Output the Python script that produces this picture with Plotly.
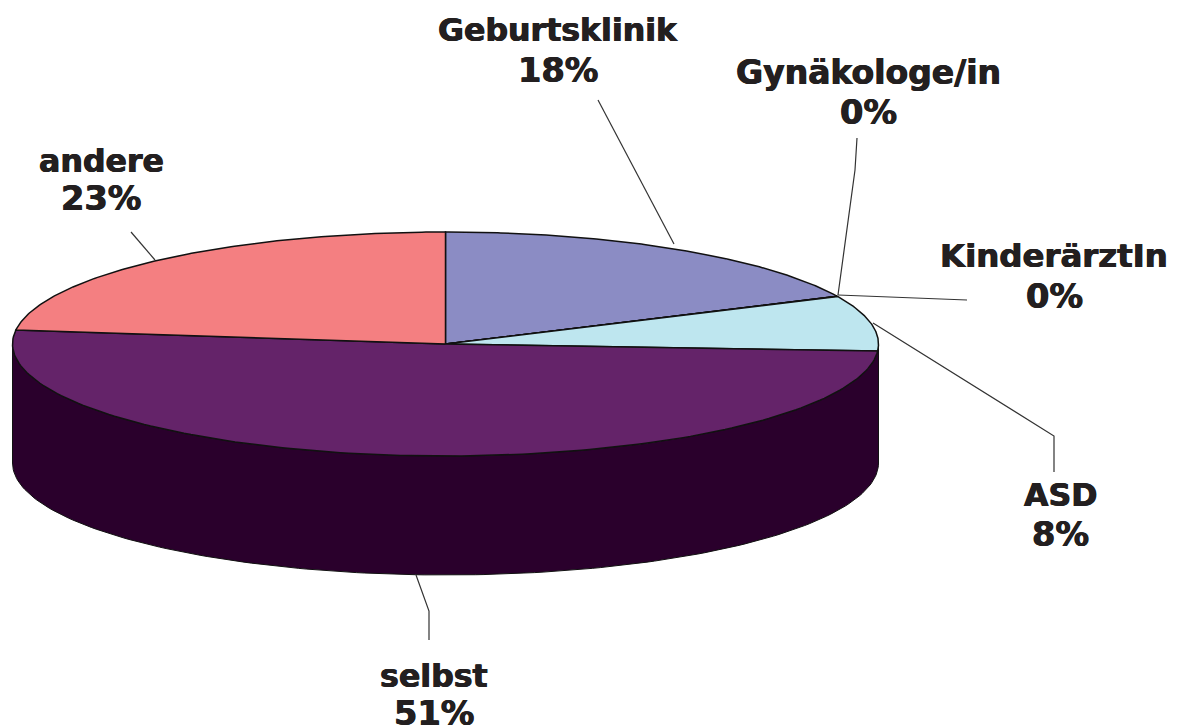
import numpy as np
import plotly.graph_objects as go

categories = ["Geburtsklinik", "Gynäkologe/in", "KinderärztIn", "ASD", "selbst", "andere"]
values = [18, 0, 0, 8, 51, 23]
colors = ["#8b8cc4", "#8b8cc4", "#bee6ef", "#bee6ef", "#642369", "#f47f81"]

WALL = "#2a002c"
EDGE = "#111111"
CX, CY, RX, RY, DEPTH = 445.5, 344.0, 433.0, 112.0, 119.0

# x, name-line y, percent-line y, name font size
label_pos = {
    "Geburtsklinik": (558, 30, 70, 31.6),
    "Gynäkologe/in": (868, 72, 112, 33.0),
    "KinderärztIn": (1054, 256, 296, 32.4),
    "ASD": (1060, 495, 534, 31.6),
    "selbst": (434, 676, 713, 31.6),
    "andere": (101, 161, 198, 31.6),
}
PCT_SIZE = 33.6
leaders = [
    ([598, 674], [100, 244]),
    ([857, 855, 838], [138, 170, 295]),
    ([967, 838], [300, 295]),
    ([873, 1054, 1054], [323, 436, 472]),
    ([416, 429, 429], [575, 611, 640]),
    ([131, 155], [232, 260]),
]


def rim(t0, t1, n=160):
    t = np.radians(np.linspace(t0, t1, n))
    return CX + RX * np.sin(t), CY - RY * np.cos(t)


fig = go.Figure()

# front wall of the disc
xr, yr = rim(90, 270)
fig.add_trace(go.Scatter(
    x=np.r_[xr, xr[::-1], xr[0]], y=np.r_[yr, yr[::-1] + DEPTH, yr[0]],
    mode="lines", fill="toself", fillcolor=WALL, line=dict(color=EDGE, width=1),
    hoverinfo="skip", showlegend=False))

# top face slices
start = 0.0
for name, v, c in zip(categories, values, colors):
    end = start + v / sum(values) * 360
    xr, yr = rim(start, end)
    fig.add_trace(go.Scatter(
        x=np.r_[CX, xr, CX], y=np.r_[CY, yr, CY],
        mode="lines", fill="toself", fillcolor=c, line=dict(color=EDGE, width=1.5),
        name=name, hoverinfo="skip", showlegend=False))
    start = end

# leader lines
for lx, ly in leaders:
    fig.add_trace(go.Scatter(x=lx, y=ly, mode="lines", line=dict(color="#333333", width=1.2),
                             hoverinfo="skip", showlegend=False))

SHADOW = "0.6px 0 0 #231f20, -0.4px 0 0 #231f20"
for name, v in zip(categories, values):
    x, y_name, y_pct, size = label_pos[name]
    fig.add_annotation(x=x, y=y_name, text=f"<b>{name}</b>", showarrow=False,
                       xanchor="center", yanchor="middle",
                       font=dict(family="DejaVu Sans", size=size, color="#231f20", shadow=SHADOW))
    fig.add_annotation(x=x, y=y_pct, text=f"<b>{v}%</b>", showarrow=False,
                       xanchor="center", yanchor="middle",
                       font=dict(family="DejaVu Sans", size=PCT_SIZE, color="#231f20", shadow=SHADOW))

fig.update_xaxes(range=[0, 1184], visible=False, fixedrange=True)
fig.update_yaxes(range=[726, 0], visible=False, fixedrange=True)
fig.update_layout(width=1184, height=726, margin=dict(l=0, r=0, t=0, b=0),
                  paper_bgcolor="white", plot_bgcolor="white")
fig.write_html("out.html", config={"displayModeBar": False},
               post_script="document.body.style.margin='0';document.documentElement.style.overflow='hidden';")
